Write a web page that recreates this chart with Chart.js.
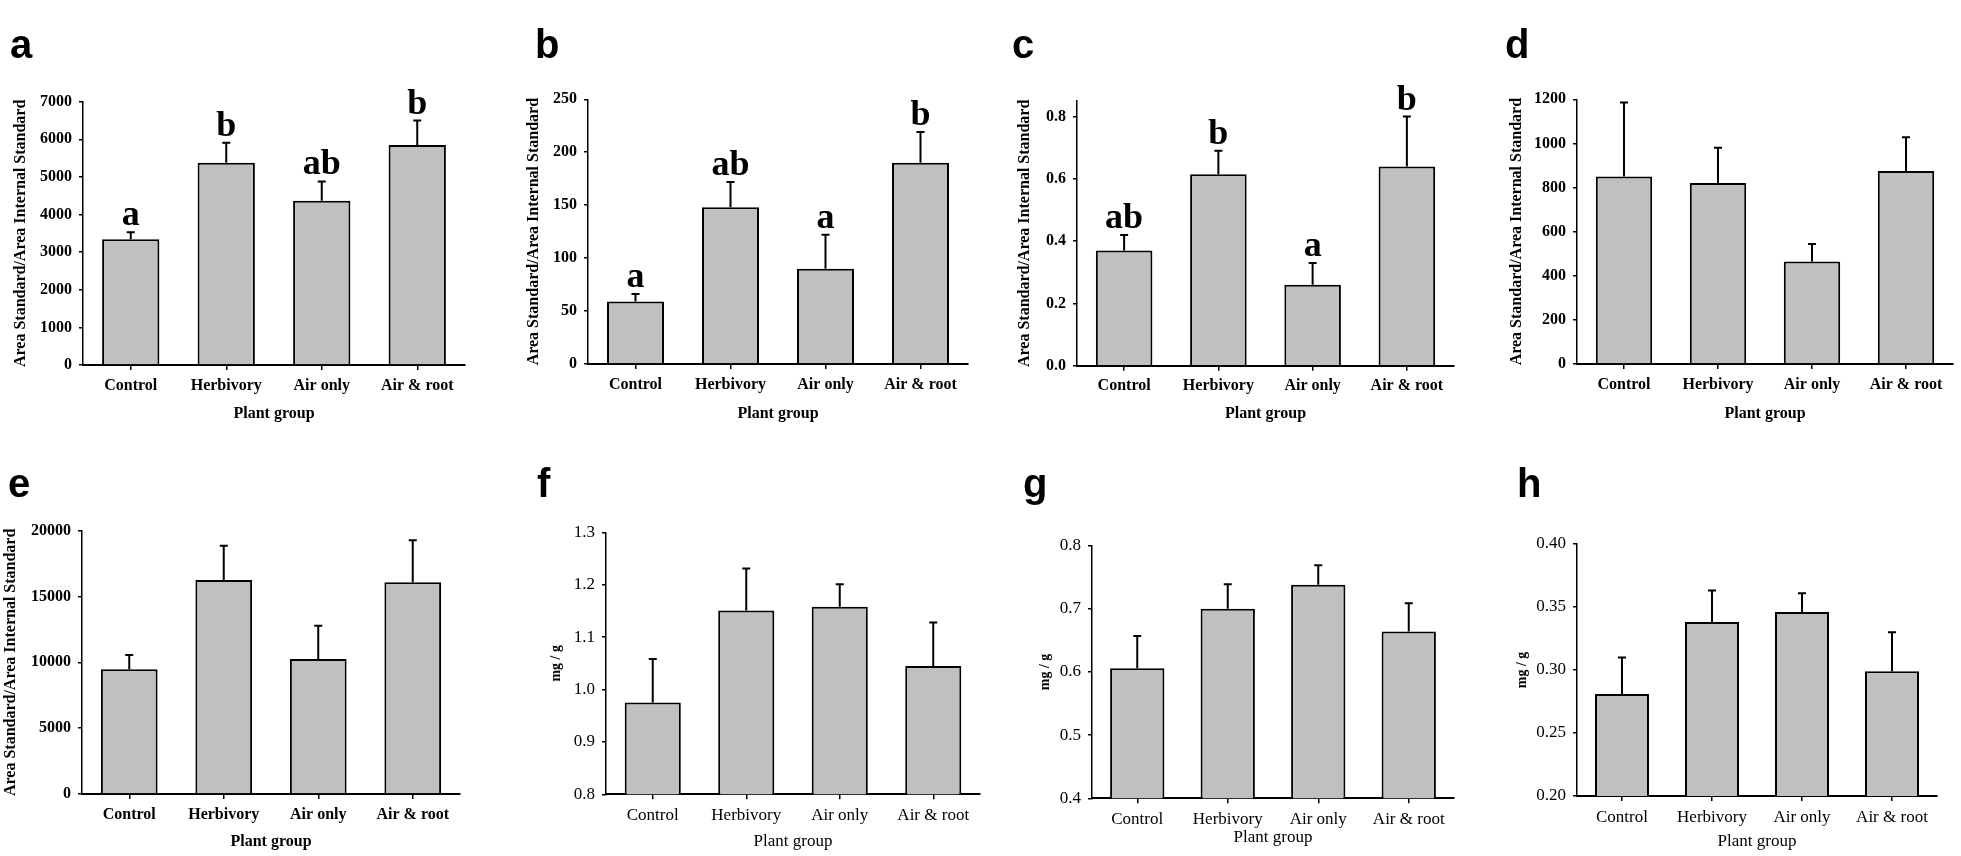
<!DOCTYPE html>
<html>
<head>
<meta charset="utf-8">
<script src="https://cdn.jsdelivr.net/npm/chart.js@4/dist/chart.umd.min.js"></script>
<style>
  html, body { margin: 0; padding: 0; background: #fff; }
  #fig { position: relative; width: 1961px; height: 856px; overflow: hidden; background: #fff; }
  #fig canvas { position: absolute; }
  .lbl { position: absolute; font: bold 40px "Liberation Sans", Arial, sans-serif; line-height: 1; color: #000; z-index: 2; }
</style>
</head>
<body>
<div id="fig"></div>
<script>
// categories shared by all panels
const categories = ["Control", "Herbivory", "Air only", "Air & root"];

// a
const meansA = [3340, 5380, 4370, 5850];
const errA = [190, 530, 510, 650];
const lettersA = ["a", "b", "ab", "b"];
const ticksA = ["0", "1000", "2000", "3000", "4000", "5000", "6000", "7000"];
// b
const meansB = [59, 148, 90, 190];
const errB = [7, 24, 32, 29];
const lettersB = ["a", "ab", "a", "b"];
const ticksB = ["0", "50", "100", "150", "200", "250"];
// c
const meansC = [0.37, 0.615, 0.26, 0.64];
const errC = [0.05, 0.075, 0.07, 0.16];
const lettersC = ["ab", "b", "a", "b"];
const ticksC = ["0.0", "0.2", "0.4", "0.6", "0.8"];
// d
const meansD = [850, 820, 465, 875];
const errD = [335, 160, 79, 153];
const ticksD = ["0", "200", "400", "600", "800", "1000", "1200"];
// e
const meansE = [9470, 16250, 10250, 16080];
const errE = [1090, 2600, 2530, 3190];
const ticksE = ["0", "5000", "10000", "15000", "20000"];
// f
const meansF = [0.975, 1.151, 1.158, 1.045];
const errF = [0.083, 0.080, 0.043, 0.083];
const ticksF = ["0.8", "0.9", "1.0", "1.1", "1.2", "1.3"];
// g
const meansG = [0.606, 0.700, 0.738, 0.664];
const errG = [0.051, 0.039, 0.031, 0.045];
const ticksG = ["0.4", "0.5", "0.6", "0.7", "0.8"];
// h
const meansH = [0.281, 0.338, 0.346, 0.299];
const errH = [0.029, 0.025, 0.015, 0.031];
const ticksH = ["0.20", "0.25", "0.30", "0.35", "0.40"];

const areaTitle = "Area Standard/Area Internal Standard";
const mgTitle = "mg / g";

const serif = '"Liberation Serif", "Times New Roman", serif';
const boldText = { family: serif, size: 16, weight: "bold" };
const plainText = { family: serif, size: 17, weight: "normal" };

// panel layout (page pixels): y title centre, axis x range, y pixel of max/min, x title centre
const panels = [
  { id: "a", means: meansA, err: errA, letters: lettersA, ticks: ticksA, max: 7000, yTitle: areaTitle, font: boldText,
    titleX: 21, x0: 83, x1: 465, yTop: 101.7, yBot: 365, titleY: 414, lbl: [10, 24] },
  { id: "b", means: meansB, err: errB, letters: lettersB, ticks: ticksB, max: 250, yTitle: areaTitle, font: boldText,
    titleX: 534, x0: 588, x1: 968, yTop: 99.3, yBot: 364, titleY: 414, lbl: [535, 24] },
  { id: "c", means: meansC, err: errC, letters: lettersC, ticks: ticksC, max: 0.85, yTitle: areaTitle, font: boldText,
    titleX: 1025, x0: 1077, x1: 1454, yTop: 101, yBot: 365.7, titleY: 414, lbl: [1012, 24] },
  { id: "d", means: meansD, err: errD, letters: null, ticks: ticksD, max: 1200, yTitle: areaTitle, font: boldText,
    titleX: 1517, x0: 1577, x1: 1953, yTop: 99.3, yBot: 364, titleY: 414, lbl: [1505, 24] },
  { id: "e", means: meansE, err: errE, letters: null, ticks: ticksE, max: 20000, yTitle: areaTitle, font: boldText,
    titleX: 11, x0: 82, x1: 460, yTop: 530.7, yBot: 794, titleY: 842, lbl: [8, 463] },
  { id: "f", means: meansF, err: errF, letters: null, ticks: ticksF, min: 0.8, max: 1.3, yTitle: mgTitle, font: plainText,
    titleX: 556, x0: 606, x1: 980, yTop: 532.3, yBot: 794.3, titleY: 842, lbl: [537, 463] },
  { id: "g", means: meansG, err: errG, letters: null, ticks: ticksG, min: 0.4, max: 0.8, yTitle: mgTitle, font: plainText,
    titleX: 1045, x0: 1092, x1: 1454, yTop: 545.7, yBot: 798.3, titleY: 838, lbl: [1023, 463] },
  { id: "h", means: meansH, err: errH, letters: null, ticks: ticksH, min: 0.2, max: 0.4, yTitle: mgTitle, font: plainText,
    titleX: 1522, x0: 1577, x1: 1937, yTop: 544, yBot: 796, titleY: 842, lbl: [1517, 463] }
];

// error bars (upper only) and significance letters
const errorBars = {
  id: "errorBars",
  afterDatasetsDraw(chart) {
    const ds = chart.data.datasets[0];
    const meta = chart.getDatasetMeta(0);
    const y = chart.scales.y;
    const ctx = chart.ctx;
    ctx.save();
    ctx.strokeStyle = "#000";
    ctx.fillStyle = "#000";
    ctx.lineWidth = 2;
    meta.data.forEach((bar, i) => {
      const top = y.getPixelForValue(ds.data[i] + ds.errors[i]);
      ctx.beginPath();
      ctx.moveTo(bar.x, bar.y);
      ctx.lineTo(bar.x, top);
      ctx.moveTo(bar.x - 4, top);
      ctx.lineTo(bar.x + 4, top);
      ctx.stroke();
      if (ds.letters) {
        ctx.font = "bold 36px " + serif;
        ctx.textAlign = "center";
        ctx.textBaseline = "alphabetic";
        ctx.fillText(ds.letters[i], bar.x, top - 7);
      }
    });
    ctx.restore();
  }
};

const fig = document.getElementById("fig");

panels.forEach(p => {
  const left = Math.max(0, Math.round(p.titleX - 10));
  const top = Math.round(p.yTop - 50);
  const right = Math.min(1961, Math.round(p.x1 + 4));
  const bottom = Math.round(p.titleY + 12);

  const canvas = document.createElement("canvas");
  canvas.width = right - left;
  canvas.height = bottom - top;
  canvas.style.left = left + "px";
  canvas.style.top = top + "px";
  fig.appendChild(canvas);

  const lbl = document.createElement("div");
  lbl.className = "lbl";
  lbl.textContent = p.id;
  lbl.style.left = p.lbl[0] + "px";
  lbl.style.top = p.lbl[1] + "px";
  fig.appendChild(lbl);

  const yTitleFont = p.yTitle === mgTitle
    ? { family: serif, size: 14, weight: "bold" }
    : { family: serif, size: 16, weight: "bold" };
  const yLine = yTitleFont.size * 1.2;
  const xLine = p.font.size * 1.2;

  new Chart(canvas, {
    type: "bar",
    data: {
      labels: categories,
      datasets: [{
        data: p.means,
        errors: p.err,
        letters: p.letters,
        backgroundColor: "#c0c0c0",
        borderColor: "#000",
        borderWidth: 2,
        barPercentage: 0.6,
        categoryPercentage: 1
      }]
    },
    options: {
      responsive: false,
      animation: false,
      devicePixelRatio: 1,
      layout: { padding: { left: 0, right: right - p.x1, top: p.yTop - top, bottom: 0 } },
      plugins: { legend: { display: false }, tooltip: { enabled: false } },
      scales: {
        x: {
          grid: { drawOnChartArea: false, drawTicks: true, tickLength: 5, offset: false, color: "#000", lineWidth: 1.5 },
          border: { display: true, color: "#000", width: 2 },
          ticks: { color: "#000", font: p.font, padding: 6, maxRotation: 0, autoSkip: false },
          title: { display: true, text: "Plant group", color: "#000", font: p.font,
                   padding: { top: 0, bottom: (bottom - p.titleY) - xLine / 2 } },
          afterFit: s => { s.height = bottom - p.yBot; }
        },
        y: {
          min: p.min !== undefined ? p.min : 0,
          max: p.max,
          afterBuildTicks: s => { s.ticks = p.ticks.map(t => ({ value: parseFloat(t) })); },
          grid: { drawOnChartArea: false, drawTicks: true, tickLength: 4, color: "#000", lineWidth: 1.5 },
          border: { display: true, color: "#000", width: 1.5 },
          ticks: { color: "#000", font: p.font, padding: 7, callback: (v, i) => p.ticks[i] },
          title: { display: true, text: p.yTitle, color: "#000", font: yTitleFont,
                   padding: { top: (p.titleX - left) - yLine / 2, bottom: 0 } },
          afterFit: s => { s.width = p.x0 - left; }
        }
      }
    },
    plugins: [errorBars]
  });
});
</script>
</body>
</html>
